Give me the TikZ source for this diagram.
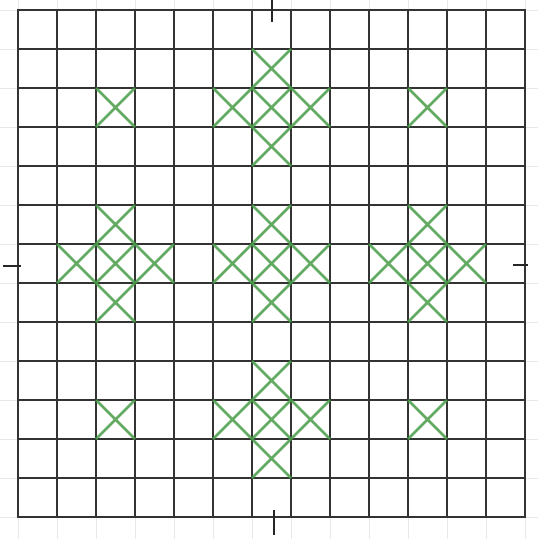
\documentclass[tikz,border=0pt]{standalone}
\usepackage{tikz}
\definecolor{stitchgreen}{RGB}{72,156,72}

\begin{document}
\begin{tikzpicture}[
    x=1pt, y=-1pt, % pixel-like coordinates, y going down
    paperline/.style={draw=black!9, line width=0.6pt},
    gridline/.style={draw=black!80, line width=1.6pt},
    stitch/.style={draw=stitchgreen, line width=2.6pt, opacity=0.85},
    marktick/.style={draw=black!85, line width=1.8pt}
]
    \useasboundingbox (0,0) rectangle (538,539);

    % Faint paper lines
    \foreach \i in {0,...,13} {
        \draw[paperline] ({18+39*\i},0) -- ({18+39*\i},539);
        \draw[paperline] (0,{10+39*\i}) -- (538,{10+39*\i});
    }

    % The drawn grid
    \foreach \i in {1,...,12} {
        \draw[gridline] ({18+39*\i},10) -- ({18+39*\i},517);
        \draw[gridline] (18,{10+39*\i}) -- (525,{10+39*\i});
    }
    \draw[gridline] (18,10) rectangle (525,517);

    % Centre marks on each side
    \draw[marktick] (272,0) -- (272,22);
    \draw[marktick] (3,266) -- (21,266);
    \draw[marktick] (513,265) -- (528,265);
    \draw[marktick] (274,510) -- (274,535);

    % Single stitches in the corners
    \foreach \c/\r in {2/2, 10/2, 2/10, 10/10}
        \draw[stitch] ({18+39*\c},{10+39*\r}) -- ++(39,39) ++(0,-39) -- ++(-39,39);

    % Plus-shaped groups of stitches
    \foreach \cx/\cy in {6/2, 2/6, 6/6, 10/6, 6/10}
        \foreach \dx/\dy in {0/0, -1/0, 1/0, 0/-1, 0/1}
            \draw[stitch] ({18+39*(\cx+(\dx))},{10+39*(\cy+(\dy))}) -- ++(39,39) ++(0,-39) -- ++(-39,39);
\end{tikzpicture}
\end{document}
